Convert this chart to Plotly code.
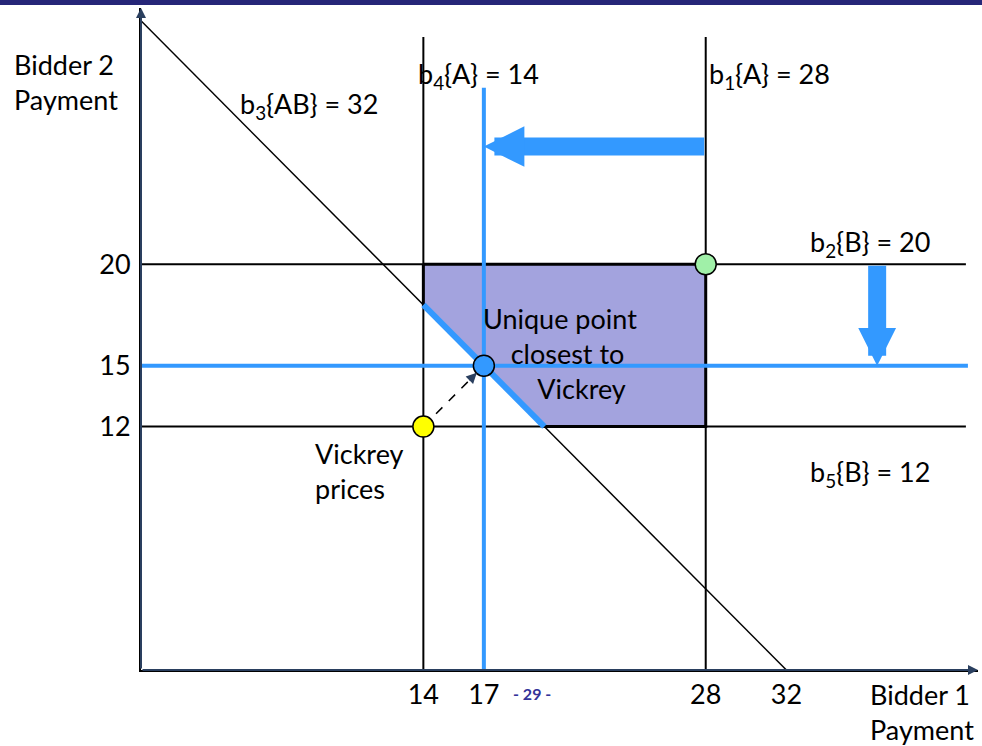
import plotly.graph_objects as go

# package bids
b1_A = 28
b2_B = 20
b3_AB = 32
b4_A = 14
b5_B = 12

# outcome points
vickrey = (14, 12)
core_pt = (17, 15)
corner = (28, 20)

x_ticks = [14, 17, 28, 32]
y_ticks = [12, 15, 20]

BLUE = "#3399FF"
FONT = "Lato"
X_MAX = 41.5
Y_MAX = 32.63
LINE_END_X = 40.9   # where the horizontal guide lines stop
LINE_TOP_Y = 31.2   # where the black vertical lines stop
BLUE_TOP_Y = 28.7   # where the blue vertical line stops

fig = go.Figure()


def seg(x, y, color="black", width=2, dash=None):
    fig.add_trace(go.Scatter(x=x, y=y, mode="lines", hoverinfo="skip",
                             line=dict(color=color, width=width, dash=dash)))


# black bid lines
seg([0, LINE_END_X], [b2_B, b2_B])
seg([0, LINE_END_X], [b5_B, b5_B])
seg([b4_A, b4_A], [0, LINE_TOP_Y])
seg([b1_A, b1_A], [0, LINE_TOP_Y])

# core region
fig.add_trace(go.Scatter(
    x=[b4_A, b1_A, b1_A, b3_AB - b5_B, b4_A, b4_A],
    y=[b2_B, b2_B, b5_B, b5_B, b3_AB - b4_A, b2_B],
    mode="lines", fill="toself", fillcolor="#A3A3DE",
    line=dict(color="black", width=3), hoverinfo="skip"))

# blue lines through the core point
seg([0, LINE_END_X + 0.1], [core_pt[1], core_pt[1]], BLUE, 4)
seg([core_pt[0], core_pt[0]], [0, BLUE_TOP_Y], BLUE, 4)

# b3{AB} line and its part on the core
seg([0, b3_AB], [b3_AB, 0], width=1.5)
seg([b4_A, b3_AB - b5_B], [b3_AB - b4_A, b5_B], BLUE, 6)

# dashed move from Vickrey prices
seg([vickrey[0], core_pt[0]], [vickrey[1], core_pt[1]], width=1.5, dash="dash")

fig.add_trace(go.Scatter(
    x=[vickrey[0], core_pt[0], corner[0]],
    y=[vickrey[1], core_pt[1], corner[1]],
    mode="markers", hoverinfo="skip",
    marker=dict(size=21, color=["#FFFF00", BLUE, "#A0F0A8"],
                line=dict(color="black", width=1.5))))

ann = []
# axis arrows
ann.append(dict(x=X_MAX, y=0, ax=0, ay=0, axref="x", ayref="y", text="",
                showarrow=True, arrowhead=2, arrowwidth=2, arrowsize=1))
ann.append(dict(x=0, y=Y_MAX, ax=0, ay=0, axref="x", ayref="y", text="",
                showarrow=True, arrowhead=2, arrowwidth=2, arrowsize=1))
# big blue arrows
ann.append(dict(x=core_pt[0], y=25.8, ax=b1_A, ay=25.8, axref="x", ayref="y",
                text="", showarrow=True, arrowhead=2, arrowwidth=18,
                arrowsize=0.45, arrowcolor=BLUE))
ann.append(dict(x=36.5, y=core_pt[1], ax=36.5, ay=b2_B, axref="x", ayref="y",
                text="", showarrow=True, arrowhead=2, arrowwidth=18,
                arrowsize=0.42, arrowcolor=BLUE))
# head of dashed arrow
ann.append(dict(x=core_pt[0], y=core_pt[1], ax=-16, ay=16, text="",
                showarrow=True, arrowhead=2, arrowwidth=1.5, arrowsize=1.4,
                standoff=10))

sp = "&nbsp;"
labels = [
    ("b<sub>3</sub>{AB} = 32", 4.81, 27.8),
    ("b<sub>4</sub>{A} = 14", 13.63, 29.3),
    ("b<sub>1</sub>{A} = 28", 28.06, 29.3),
    ("b<sub>2</sub>{B} = 20", 33.07, 21.0),
    ("b<sub>5</sub>{B} = 12", 33.07, 9.7),
    ("Unique point<br>" + sp * 4 + "closest to<br>" + sp * 8 + "Vickrey",
     16.85, 15.6),
    ("Vickrey<br>prices", 8.53, 9.8),
]
for t, x, y in labels:
    ann.append(dict(x=x, y=y, text=t, showarrow=False, xanchor="left",
                    yanchor="middle", align="left"))

ann.append(dict(x=-0.154, y=0.888, xref="paper", yref="paper",
                text="Bidder 2<br>Payment", showarrow=False,
                xanchor="left", yanchor="middle", align="left"))
ann.append(dict(x=0.8686, y=-0.063, xref="paper", yref="paper",
                text="Bidder 1<br>Payment", showarrow=False,
                xanchor="left", yanchor="middle", align="left"))
ann.append(dict(x=0.467, y=-0.053, xref="paper", yref="paper",
                text="<b>- 29 -</b>", showarrow=False,
                font=dict(size=16, color="#333399")))

fig.update_layout(
    width=982, height=746,
    margin=dict(l=141, r=4, t=8, b=76),
    plot_bgcolor="white", paper_bgcolor="white",
    showlegend=False,
    font=dict(family=FONT, size=27, color="black"),
    annotations=ann,
    shapes=[dict(type="rect", xref="paper", yref="paper",
                 x0=-0.2, x1=1.1, y0=1.0045, y1=1.02,
                 fillcolor="#262678", line=dict(width=0))],
)
fig.update_xaxes(range=[0, X_MAX], tickvals=x_ticks, showgrid=False,
                 zeroline=False, showline=True, linecolor="black", linewidth=2,
                 ticks="", tickfont=dict(size=27), automargin=False)
fig.update_yaxes(range=[0, Y_MAX], tickvals=y_ticks, showgrid=False,
                 zeroline=False, showline=True, linecolor="black", linewidth=2,
                 ticks="", tickfont=dict(size=27), ticklabelstandoff=3,
                 automargin=False)

fig.write_html("out.html", config={"displayModeBar": False},
               post_script="document.body.style.margin='0';")
